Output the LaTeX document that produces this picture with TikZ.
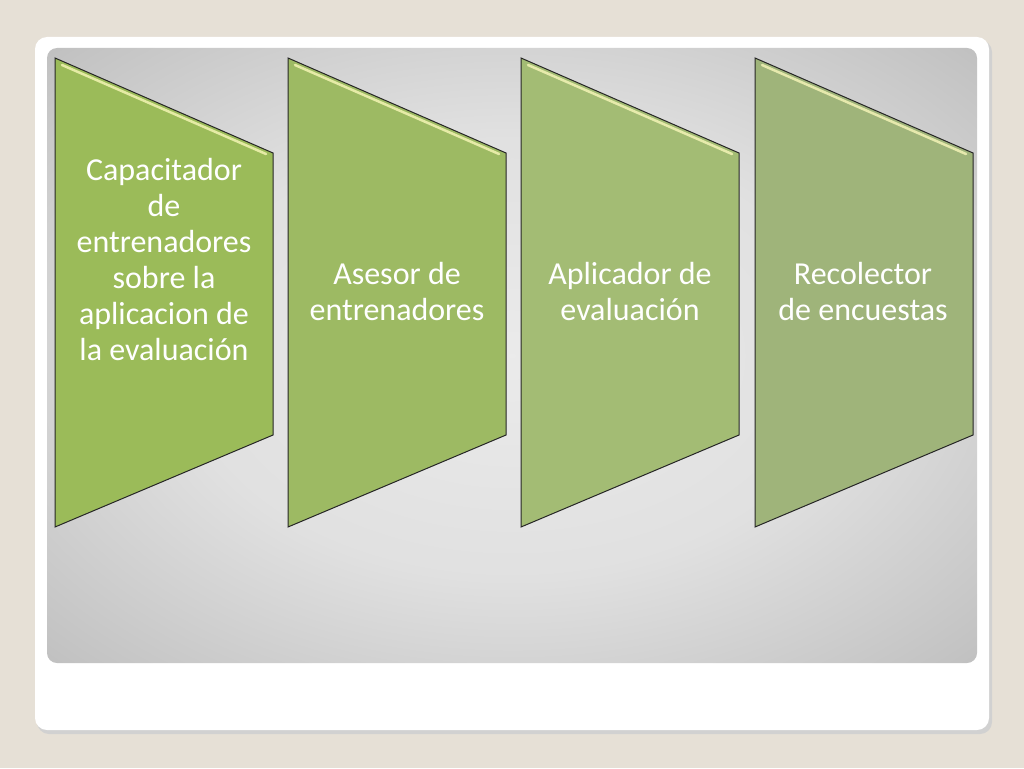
\documentclass[tikz,border=0pt]{standalone}
\usepackage{fontspec}
\setmainfont{Carlito}
\usepackage{tikz}
\definecolor{pagebg}{HTML}{E6E0D6}
\definecolor{gone}{HTML}{9BBB59}
\definecolor{gtwo}{HTML}{9DBA63}
\definecolor{gthree}{HTML}{A3BC74}
\definecolor{gfour}{HTML}{9FB47A}
\pgfdeclareradialshading{greyglow}{\pgfpoint{0bp}{0bp}}{color(0bp)=(gray!16); color(18bp)=(gray!24); color(34bp)=(gray!47); color(50bp)=(gray!75)}
\tikzset{
  panel/.style={draw=black!85, line width=1pt},
  bevel/.style={draw=white!75!yellow, line width=2.5pt, opacity=0.75, line cap=round},
  steptext/.style={text=white, align=flush center, font=\fontsize{32}{36}\selectfont, text width=215pt}
}
\newcommand\panelbox[2]{
  \draw[panel, fill=#2] (#1,58) -- (#1+218,153) -- (#1+218,435) -- (#1,527) -- cycle;
  \draw[bevel] (#1+7,65) -- (#1+211,154);
}

\begin{document}
\begin{tikzpicture}[x=1pt, y=-1pt]
      \useasboundingbox (0,0) rectangle (1024,768);
      % Background and slide card
      \fill[pagebg] (0,0) rectangle (1024,768);
      \fill[black!18, rounded corners=12pt] (37,40) rectangle (992,734);
      \fill[white, rounded corners=12pt] (35,37) rectangle (989,730);
      \shade[rounded corners=10pt, shading=greyglow] (47,48) rectangle (977,663);

      % Draw the four panels
      \panelbox{55}{gone}
      \panelbox{288}{gtwo}
      \panelbox{521}{gthree}
      \panelbox{755}{gfour}

      % Panel texts
      \node[steptext] (cap) at (164,260) {Capacitador\\de\\entrenadores\\sobre la\\aplicacion de\\la evaluación};
      \node[steptext] (ase) at (397,292) {Asesor de\\entrenadores};
      \node[steptext] (apl) at (630,292) {Aplicador de\\evaluación};
      \node[steptext] (rec) at (863,292) {Recolector\\de encuestas};
    \end{tikzpicture}
\end{document}
